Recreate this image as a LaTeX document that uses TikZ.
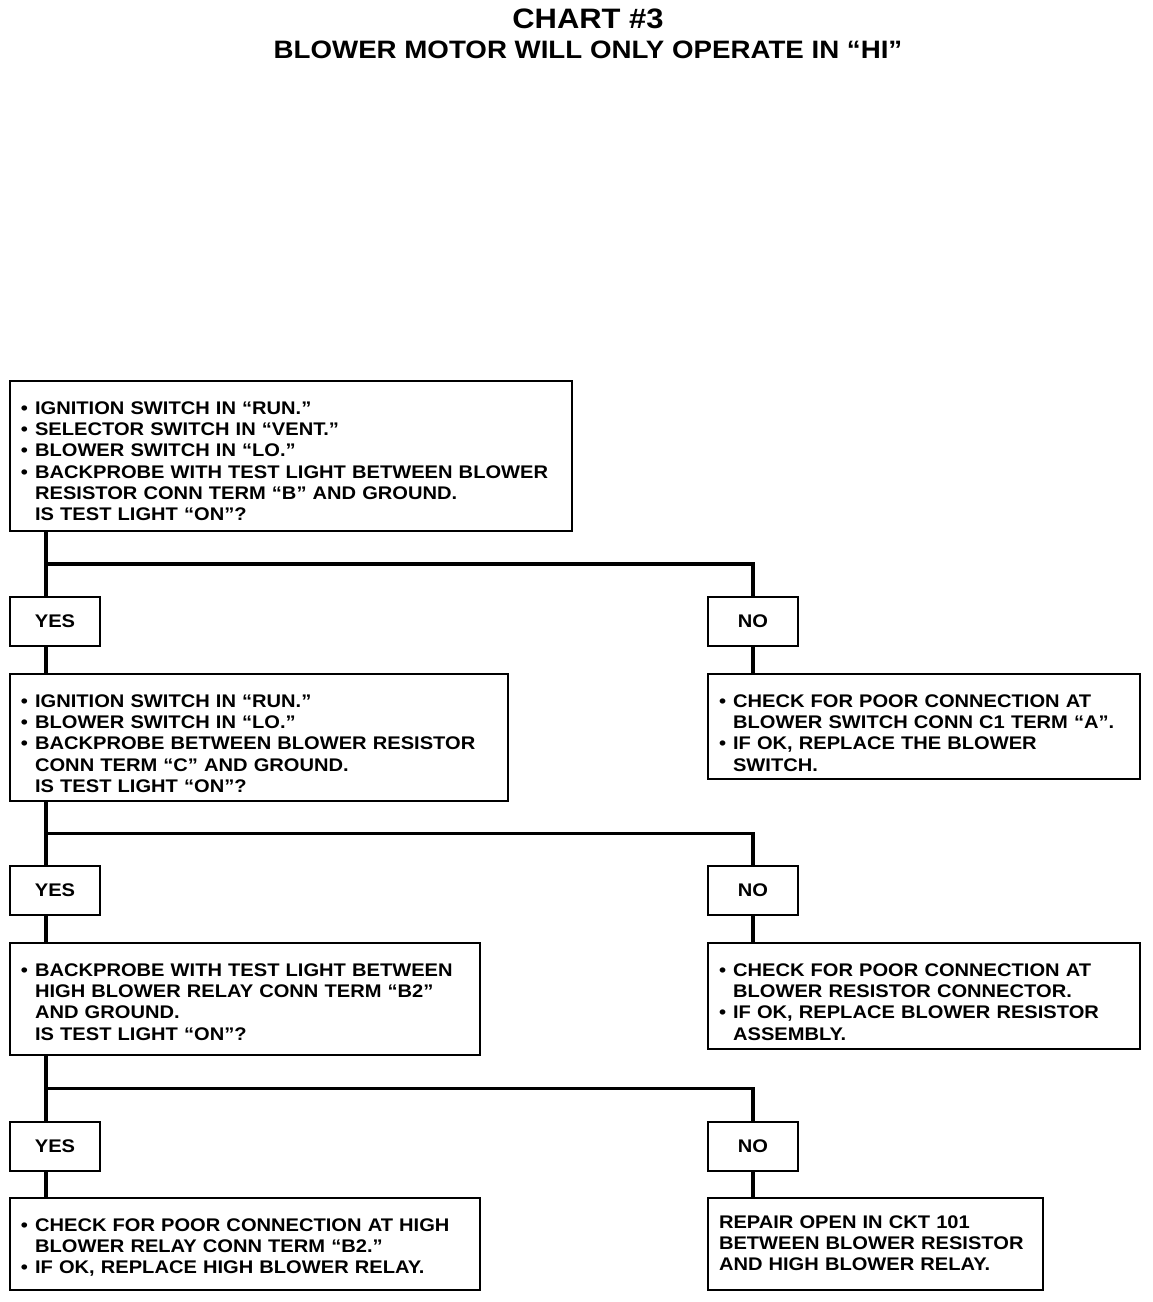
\documentclass[tikz,border=0pt]{standalone}
\usepackage{fontspec}
\setmainfont{Liberation Sans}[FakeStretch=1.1]
\usepackage{tikz}
\usetikzlibrary{positioning}
\usetikzlibrary{calc}
\newdimen\px \px=0.025cm

\begin{document}
\begin{tikzpicture}[x=0.025cm,y=-0.025cm,
                    font=\fontsize{13}{15.2}\selectfont\bfseries,
                    check box/.style 2 args={draw,line width=1.6pt,outer sep=0pt,inner xsep=0pt,inner ysep=0pt,
                      minimum width=#1*\px,text width=#1*\px-22*\px,align=left,
                      text height=33*\px,text depth=#2*\px-33*\px},
                    answer box/.style={draw,line width=1.6pt,outer sep=0pt,minimum width=90*\px,minimum height=49*\px},
                    wire/.style={-,line width=2.6pt}]

  \useasboundingbox (0,0) rectangle (1152,1302);

  \node (title) at (588,19) {\fontsize{20}{24}\selectfont CHART \#3};
  \node (subtitle) at (588,50) {\fontsize{17.9}{20}\selectfont BLOWER MOTOR WILL ONLY OPERATE IN “HI”};

  % first test
  \node[check box={562}{150},anchor=north west] (q1) at (10,381) {%
    \begin{tabular}[t]{@{}l@{\hspace{5pt}}l@{}}
    • & IGNITION SWITCH IN “RUN.”\\
    • & SELECTOR SWITCH IN “VENT.”\\
    • & BLOWER SWITCH IN “LO.”\\
    • & BACKPROBE WITH TEST LIGHT BETWEEN BLOWER\\
      & RESISTOR CONN TERM “B” AND GROUND.\\
      & IS TEST LIGHT “ON”?
    \end{tabular}};

  \node[answer box] (yes1) [below=66*\px of q1.south west,anchor=north west] {YES};
  \node[answer box] (no1) [right=608*\px of yes1] {NO};

  \node[check box={432}{105}] (fix1) [below=28*\px of no1.south west,anchor=north west] {%
    \begin{tabular}[t]{@{}l@{\hspace{5pt}}l@{}}
    • & CHECK FOR POOR CONNECTION AT\\
      & BLOWER SWITCH CONN C1 TERM “A”.\\
    • & IF OK, REPLACE THE BLOWER\\
      & SWITCH.
    \end{tabular}};

  % second test
  \node[check box={498}{127}] (q2) [below=28*\px of yes1.south west,anchor=north west] {%
    \begin{tabular}[t]{@{}l@{\hspace{5pt}}l@{}}
    • & IGNITION SWITCH IN “RUN.”\\
    • & BLOWER SWITCH IN “LO.”\\
    • & BACKPROBE BETWEEN BLOWER RESISTOR\\
      & CONN TERM “C” AND GROUND.\\
      & IS TEST LIGHT “ON”?
    \end{tabular}};

  \node[answer box] (yes2) [below=65*\px of q2.south west,anchor=north west] {YES};
  \node[answer box] (no2) [right=608*\px of yes2] {NO};

  \node[check box={432}{106}] (fix2) [below=28*\px of no2.south west,anchor=north west] {%
    \begin{tabular}[t]{@{}l@{\hspace{5pt}}l@{}}
    • & CHECK FOR POOR CONNECTION AT\\
      & BLOWER RESISTOR CONNECTOR.\\
    • & IF OK, REPLACE BLOWER RESISTOR\\
      & ASSEMBLY.
    \end{tabular}};

  % third test
  \node[check box={470}{112}] (q3) [below=28*\px of yes2.south west,anchor=north west] {%
    \begin{tabular}[t]{@{}l@{\hspace{5pt}}l@{}}
    • & BACKPROBE WITH TEST LIGHT BETWEEN\\
      & HIGH BLOWER RELAY CONN TERM “B2”\\
      & AND GROUND.\\
      & IS TEST LIGHT “ON”?
    \end{tabular}};

  \node[answer box] (yes3) [below=67*\px of q3.south west,anchor=north west] {YES};
  \node[answer box] (no3) [right=608*\px of yes3] {NO};

  \node[check box={470}{92}] (q4) [below=27*\px of yes3.south west,anchor=north west] {%
    \begin{tabular}[t]{@{}l@{\hspace{5pt}}l@{}}
    • & CHECK FOR POOR CONNECTION AT HIGH\\
      & BLOWER RELAY CONN TERM “B2.”\\
    • & IF OK, REPLACE HIGH BLOWER RELAY.
    \end{tabular}};

  \node[check box={335}{92},text height=30*\px,text depth=62*\px] (fix3) [below=27*\px of no3.south west,anchor=north west] {%
    \begin{tabular}[t]{@{}l@{}}
    REPAIR OPEN IN CKT 101\\
    BETWEEN BLOWER RESISTOR\\
    AND HIGH BLOWER RELAY.
    \end{tabular}};

  % branch points
  \coordinate (b1) at ($(q1.south west)!0.5!(yes1.north west)+(36,0)$);
  \coordinate (b2) at ($(q2.south west)!0.5!(yes2.north west)+(36,0)$);
  \coordinate (b3) at ($(q3.south west)!0.5!(yes3.north west)+(36,0)$);

  \draw[wire]
    (b1 |- q1.south) -- (b1) -| (no1.north)
    (b1) -- (b1 |- yes1.north)
    (b1 |- yes1.south) -- (b1 |- q2.north)
    (no1.south) -- (no1.south |- fix1.north)

    (b2 |- q2.south) -- (b2) -| (no2.north)
    (b2) -- (b2 |- yes2.north)
    (b2 |- yes2.south) -- (b2 |- q3.north)
    (no2.south) -- (no2.south |- fix2.north)

    (b3 |- q3.south) -- (b3) -| (no3.north)
    (b3) -- (b3 |- yes3.north)
    (b3 |- yes3.south) -- (b3 |- q4.north)
    (no3.south) -- (no3.south |- fix3.north)
    ;
\end{tikzpicture}
\end{document}
